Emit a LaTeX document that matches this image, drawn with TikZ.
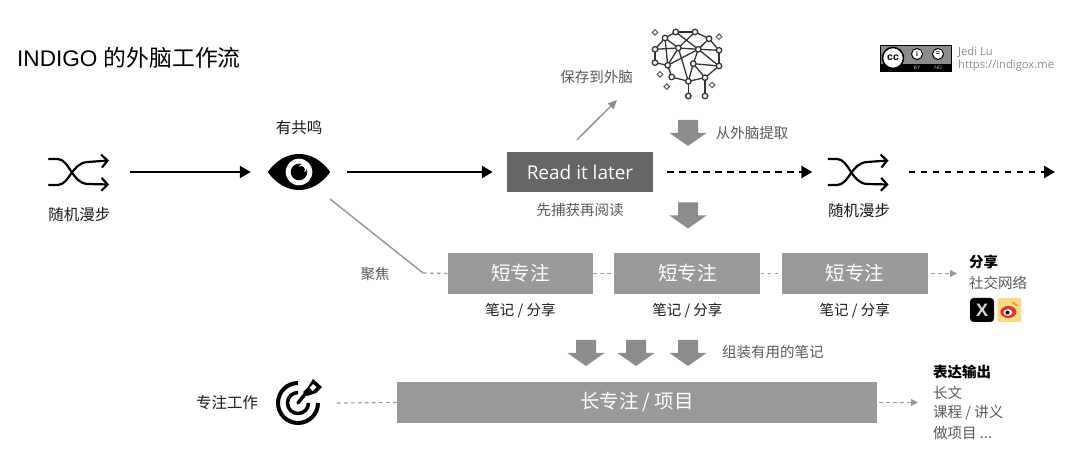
\documentclass[tikz,border=0pt]{standalone}
\usepackage{fontspec}
\setmainfont{Liberation Sans}
\newfontfamily\cjk{Noto Sans CJK SC}
\newfontfamily\gsans{Open Sans}
\usetikzlibrary{arrows.meta, positioning, shapes.geometric}
\definecolor{boxdark}{HTML}{666666}
\definecolor{boxgray}{HTML}{999999}
\definecolor{arrowgray}{HTML}{8C8C8C}
\definecolor{weiboyellow}{HTML}{FBD982}
\definecolor{weibored}{HTML}{D9382E}
\newcommand{\randomicon}[2]{  % #1 = centre, #2 = name
	\node[minimum width=61pt, minimum height=40pt, inner sep=0pt, at={#1}](#2){};
	\begin{scope}[shift={#1}, line width=2.2pt, line cap=round]
		\draw[-{Straight Barb[length=6pt,width=13pt]}] (-30.5,-13) -- (-22,-13) .. controls (-10,-13) and (-8,11) .. (8,12) -- (29.5,12.5);
		\draw[-{Straight Barb[length=6pt,width=13pt]}] (-30.5,13) -- (-22,13) .. controls (-10,13) and (-8,-9) .. (8,-10) -- (29.5,-11.5);
	\end{scope}
}
\newcommand{\graydown}[2]{  % #1 = centre, #2 = name
	\node[minimum width=37pt, minimum height=26pt, inner sep=0pt, at={#1}](#2){};
	\fill[arrowgray, shift={#1}] (-10,-13) -- (10,-13) -- (10,0) -- (18.5,0) -- (0,13) -- (-18.5,0) -- (-10,0) -- cycle;
}
\begin{document}
\begin{tikzpicture}[x=1pt, y=-1pt,
					bigarrow/.style={-{Triangle[length=11pt,width=12pt]}, line width=2.4pt},
					dotarrow/.style={bigarrow, dash pattern=on 6.5pt off 5.5pt},
					thinline/.style={boxgray, line width=1.2pt, dash pattern=on 3.5pt off 3.5pt},
					thinarrow/.style={thinline, -{Triangle[length=7pt,width=7pt]}},
					graybox/.style={fill=boxgray, text=white, minimum height=41pt, inner sep=0pt, font=\cjk\fontsize{19.5}{22}\selectfont},
					lbl/.style={inner sep=0pt, text=black!65, font=\cjk\fontsize{14.5}{17}\selectfont},
					darklbl/.style={lbl, text=black!90},
					iconlbl/.style={darklbl, font=\cjk\fontsize{15.5}{18}\selectfont},
					leftlbl/.style={lbl, anchor=west},
					boldlbl/.style={leftlbl, text=black, font=\cjk\bfseries\fontsize{14.5}{17}\selectfont},
					knot/.style={circle, draw=black!80, fill=white, line width=1.3pt, minimum size=5.5pt, inner sep=0pt},
					spark/.style={diamond, draw=black!65, line width=1pt, minimum size=6pt, inner sep=0pt},
					badgedisc/.style={circle, draw=black, fill=white, line width=1pt, minimum size=11pt, inner sep=0pt, font=\bfseries\fontsize{7}{7}\selectfont},
					badgetext/.style={inner sep=0pt, text=white!75!black, font=\fontsize{5}{6}\selectfont},
					creditlbl/.style={anchor=west, inner sep=0pt, text=black!45, font=\gsans\fontsize{11.2}{14}\selectfont}
					]
	\useasboundingbox (0,0) rectangle (1080,462);

	\node[anchor=west, inner sep=0pt, font=\fontsize{22.6}{28}\selectfont] (title) at (17,58) {INDIGO {\cjk\fontsize{22.8}{28}\selectfont 的外脑工作流}};

	% First row
	\randomicon{(79.5,172)}{walkA};
	\node[iconlbl, below=15pt of walkA] (walkAtext) {随机漫步};
	\node[minimum width=62pt, minimum height=36pt, inner sep=0pt] (eye) at (299,172) {};
	\fill (eye.west) .. controls (285,148) and (313,148) .. (eye.east) .. controls (313,196) and (285,196) .. (eye.west);
	\fill[white] (eye.center) circle[radius=13.3pt];
	\fill (eye.center) circle[radius=8.3pt];
	\fill[white] (303,168) circle[radius=4.2pt];
	\fill (301.3,169.7) circle[radius=3.6pt];
	\node[iconlbl, above=19pt of eye] (eyetext) {有共鸣};
	\node[fill=boxdark, text=white, minimum width=146pt, minimum height=40pt, inner sep=0pt, font=\gsans\fontsize{19}{22}\selectfont] (later) at (580,172) {Read it later};
	\randomicon{(859,172)}{walkB};
	\node[iconlbl, below=11pt of walkB] (walkBtext) {随机漫步};
	\coordinate (rowend) at (1055,172);

	% Brain
	\foreach \name/\px/\py in {a/675.7/32, b/695/32, c/709/38.7, d/719/50.3, e/719/66, f/705/77.7, g/688.3/81.3, h/671.7/77, i/655/62.7, j/655/49.3, k/665/38, l/678.3/48, m/698.3/49.3, n/693.3/63.7, q/667.7/65.3, o/688.3/96, p/705/96}
		\coordinate (\name) at (\px,\py);
	\foreach \from/\to in {a/b, b/c, c/d, d/e, e/f, f/g, g/h, h/q, q/i, i/j, j/k, k/a, k/l, k/q, a/m, b/l, j/l, l/m, m/c, m/d, m/e, l/q, q/m, l/g, n/m, n/e, n/f, n/g, g/o, f/p}
		\draw[black!80, line width=1.3pt] (\from) -- (\to);
	\foreach \name in {a,b,c,d,e,f,g,h,i,j,k,l,m,n,q,o,p}
		\node[knot] at (\name) {};
	\foreach \name/\px/\py in {sa/655/32.3, sb/719/36.7, sc/660/74.3, sd/666.7/86.7, se/712/85}
		\node[spark] (\name) at (\px,\py) {};
	\node[lbl] (savetext) at (596.5,77) {保存到外脑};
	\coordinate (savetip) at (617,100);
	\graydown{(688,133)}{fetch};
	\node[lbl, right=9pt of fetch] (fetchtext) {从外脑提取};
	\node[lbl, below=11pt of later] (capture) {先捕获再阅读};
	\graydown{(688,215.5)}{capdown};

	% Licence badge
	\node[fill=black!45, draw=black, minimum width=71pt, minimum height=26pt, inner sep=0pt] (badge) at (915.5,58) {};
	\node[fill=black, minimum width=71pt, minimum height=7pt, inner sep=0pt, anchor=south] (badgestrip) at (badge.south) {};
	\node[circle, draw=black, fill=white, line width=1.5pt, minimum size=21pt, inner sep=0pt, font=\bfseries\fontsize{10.5}{10}\selectfont] (badgecc) at (893,58) {cc};
	\node[badgedisc] (badgeby) at (917,54) {i};
	\node[badgedisc] (badgend) at (938,54) {=};
	\node[badgetext] (badgebytext) at (917,67.5) {BY};
	\node[badgetext] (badgendtext) at (938,67.5) {ND};
	\node[creditlbl] (author) at (958,52) {Jedi Lu};
	\node[creditlbl] (site) at (958,66) {https://indigox.me};

	% Short focus row
	\coordinate (focuskink) at (423,273);
	\node[lbl] (focustext) at (375,274) {聚焦};
	\node[graybox, minimum width=145pt] (shortA) at (520.5,273.5) {短专注};
	\node[graybox, minimum width=146pt, right=21pt of shortA] (shortB) {短专注};
	\node[graybox, minimum width=146pt, right=21pt of shortB] (shortC) {短专注};
	\foreach \shortname in {shortA, shortB, shortC}
		\node[darklbl, below=9pt of \shortname] (\shortname note) {笔记 / 分享};
	\node[boldlbl] (sharetitle) at (969,262) {分享};
	\node[leftlbl] (sharetext) at (969,283) {社交网络};
	\coordinate (sharetip) at (957,273.5);
	\node[fill=black, rounded corners=3.5pt, minimum size=24pt, inner sep=0pt, text=white!85!black, font=\bfseries\fontsize{18}{18}\selectfont] (xlogo) at (982,310) {X};
	\node[fill=weiboyellow, rounded corners=2pt, minimum size=24pt, inner sep=0pt, right=3pt of xlogo] (weibo) {};
	\fill[weibored] ([xshift=-1pt,yshift=-2pt]weibo.center) ellipse[x radius=8pt, y radius=6pt];
	\fill[white] ([xshift=-1.5pt,yshift=-2.5pt]weibo.center) ellipse[x radius=4.5pt, y radius=3.3pt];
	\fill[black] ([xshift=-2pt,yshift=-2.5pt]weibo.center) circle[radius=2pt];
	\draw[orange, line width=1.2pt] ([xshift=3pt,yshift=8pt]weibo.center) -- ([xshift=8pt,yshift=4pt]weibo.center);

	% Long focus row
	\graydown{(586,353)}{partA};
	\graydown{(636,353)}{partB};
	\graydown{(688,353)}{partC};
	\node[lbl, anchor=west] (parttext) at (722,352) {组装有用的笔记};
	\node[graybox, minimum width=480pt] (project) at (637,402.5) {长专注 / 项目};
	\node[iconlbl] (worktext) at (227,403) {专注工作};
	\node[minimum size=44pt, inner sep=0pt] (target) at (298,403) {};
	\draw[line width=4pt] (target.center) ++(90:20pt) arc[start angle=90, end angle=360, radius=20pt];
	\draw[line width=3.5pt] (target.center) ++(90:10.5pt) arc[start angle=90, end angle=360, radius=10.5pt];
	\draw[line width=3.5pt, line cap=round] (target.center) -- (306,393);
	\fill (303,392) -- (308,387) -- (313,379) -- (322,387) -- (316,393) -- (307,396) -- cycle;
	\fill[white] (309.5,388) -- (313,384) -- (316.5,387) -- (312.5,391) -- cycle;
	\node[boldlbl] (outtitle) at (933,372) {表达输出};
	\node[leftlbl] (outA) at (933,393) {长文};
	\node[leftlbl] (outB) at (933,412.5) {课程 / 讲义};
	\node[leftlbl] (outC) at (933,433) {做项目 ...};
	\coordinate (outtip) at (918,402.5);

	% Connections
	\draw[bigarrow] ([xshift=20pt]walkA.east) -- ([xshift=-17pt]eye.west);
	\draw[bigarrow] ([xshift=17pt]eye.east) -- ([xshift=-14pt]later.west);
	\draw[dotarrow] ([xshift=14pt]later.east) -- ([xshift=-16pt]walkB.west);
	\draw[dotarrow] ([xshift=19pt]walkB.east) -- (rowend);
	\draw[-{Triangle[length=9pt,width=8pt]}, arrowgray, line width=1.3pt] ([xshift=-3pt,yshift=12pt]later.north) -- (savetip);
	\draw[boxgray, line width=1.5pt] (330,199) -- (focuskink);
	\draw[thinline] (focuskink) -- (shortA.west);
	\draw[thinline] (shortA) -- (shortB);
	\draw[thinline] (shortB) -- (shortC);
	\draw[thinarrow] ([xshift=3pt]shortC.east) -- (sharetip);
	\draw[thinline] ([xshift=17pt]target.east) -- (project.west);
	\draw[thinarrow] ([xshift=2pt]project.east) -- (outtip);
\end{tikzpicture}
\end{document}
